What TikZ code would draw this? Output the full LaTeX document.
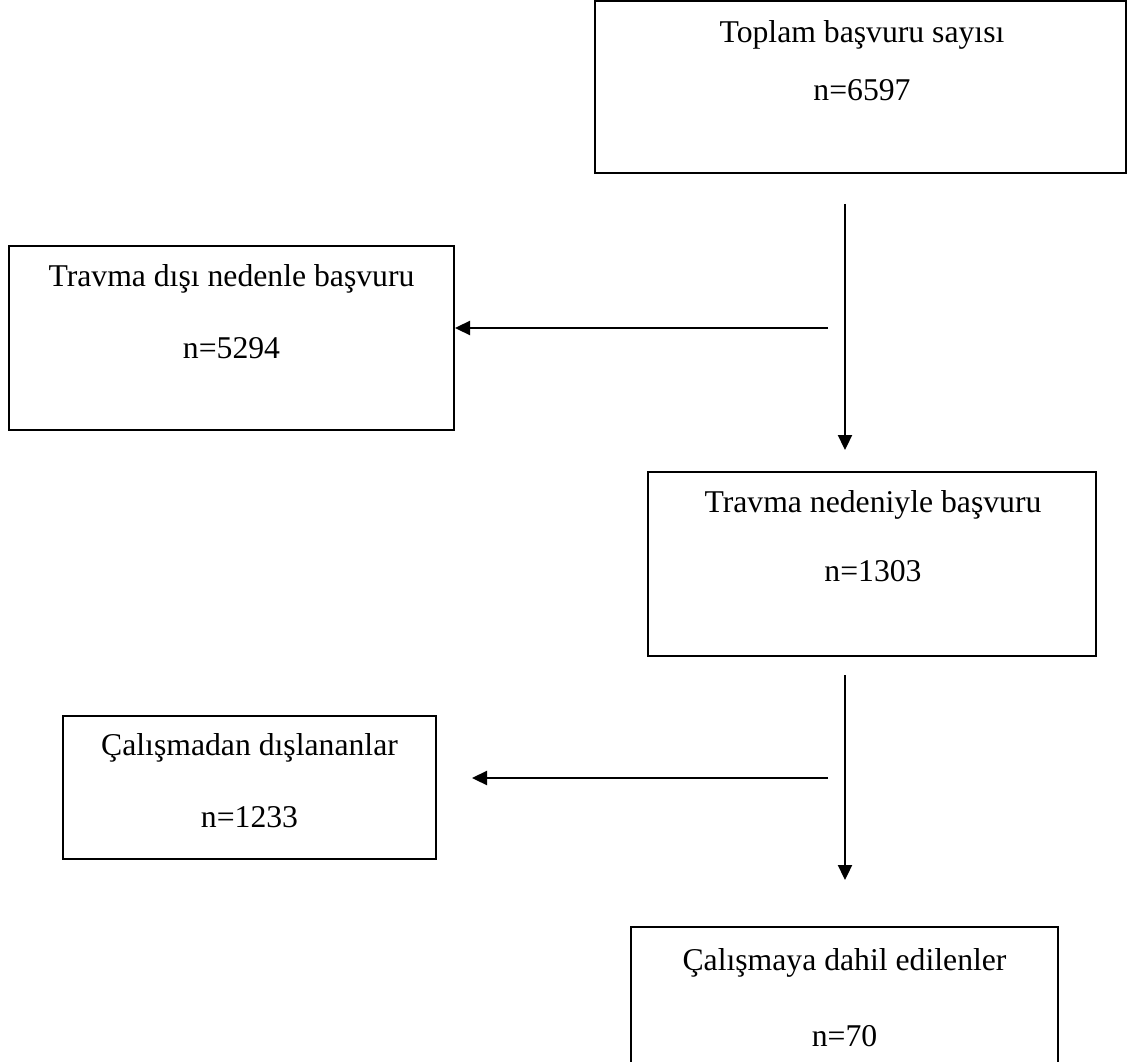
\documentclass[tikz,border=0pt]{standalone}
\usepackage{fontspec}
\setmainfont{Liberation Serif}
\usetikzlibrary{arrows.meta}
\begin{document}
\begin{tikzpicture}[x=1pt,y=-1pt,
  box/.style={draw=black,line width=1.8pt,rectangle,inner sep=0pt},
  txt/.style={anchor=base,inner sep=0pt,font=\fontsize{31.7}{38}\selectfont},
  arr/.style={line width=2.3pt,-{Triangle[length=15pt,width=14pt]}}]
\useasboundingbox (0,0) rectangle (1128,1062);
\fill[white] (0,0) rectangle (1128,1062);
% boxes
\node[box,minimum width=531pt,minimum height=172pt] (A) at (860.5,87) {};
\node[box,minimum width=445pt,minimum height=184pt] (B) at (231.5,338) {};
\node[box,minimum width=448pt,minimum height=184pt] (C) at (872,564) {};
\node[box,minimum width=373pt,minimum height=143pt] (D) at (249.5,787.5) {};
\node[box,minimum width=427pt,minimum height=140pt] (E) at (844.5,997) {};
% texts
\node[txt] (A1) at (862,43) {Toplam başvuru sayısı};
\node[txt] (A2) at (862,101) {n=6597};
\node[txt] (B1) at (231.5,286) {Travma dışı nedenle başvuru};
\node[txt] (B2) at (231.5,358) {n=5294};
\node[txt] (C1) at (873,512) {Travma nedeniyle başvuru};
\node[txt] (C2) at (873,581) {n=1303};
\node[txt] (D1) at (249.5,755) {Çalışmadan dışlananlar};
\node[txt] (D2) at (249.5,827) {n=1233};
\node[txt] (E1) at (844.5,970) {Çalışmaya dahil edilenler};
\node[txt] (E2) at (844.5,1046) {n=70};
% connector ends
\coordinate (v1s) at (845,204);
\coordinate (v1e) at (845,450);
\coordinate (h1s) at (828,328);
\coordinate (h1e) at (455,328);
\coordinate (v2s) at (845,675);
\coordinate (v2e) at (845,880);
\coordinate (h2s) at (828,778);
\coordinate (h2e) at (472,778);
\draw[arr] (v1s) -- (v1e);
\draw[arr] (h1s) -- (h1e);
\draw[arr] (v2s) -- (v2e);
\draw[arr] (h2s) -- (h2e);
\end{tikzpicture}
\end{document}
